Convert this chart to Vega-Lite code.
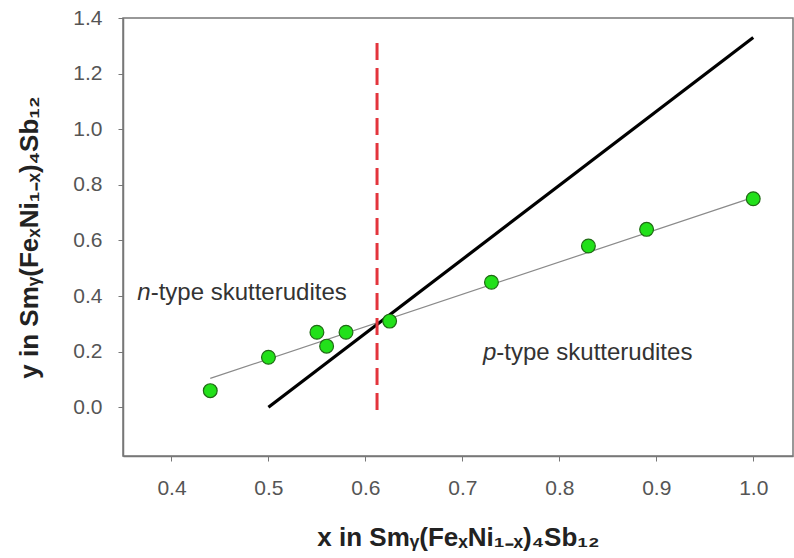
{
  "$schema": "https://vega.github.io/schema/vega-lite/v6.json",
  "width": 670,
  "height": 438,
  "autosize": {"type": "none"},
  "padding": {"left": 123, "top": 18, "right": 1, "bottom": 102},
  "background": "white",
  "config": {
    "view": {"stroke": "#777", "strokeWidth": 1.5},
    "font": "Liberation Sans",
    "axis": {
      "grid": false,
      "domainColor": "#777",
      "domainWidth": 1.5,
      "tickColor": "#777",
      "tickSize": 5,
      "labelFont": "Liberation Sans",
      "labelFontSize": 21,
      "labelColor": "#555",
      "titleFont": "Liberation Sans",
      "titleFontSize": 26,
      "titleFontWeight": "bold",
      "titleColor": "#222"
    }
  },
  "datasets": {
    "points": [
      {"x": 0.44, "y": 0.06},
      {"x": 0.5, "y": 0.18},
      {"x": 0.55, "y": 0.27},
      {"x": 0.56, "y": 0.22},
      {"x": 0.58, "y": 0.27},
      {"x": 0.625, "y": 0.31},
      {"x": 0.73, "y": 0.45},
      {"x": 0.83, "y": 0.58},
      {"x": 0.89, "y": 0.64},
      {"x": 1.0, "y": 0.75}
    ],
    "fit": [
      {"x": 0.44, "y": 0.104},
      {"x": 1.0, "y": 0.755}
    ],
    "boundary": [
      {"x": 0.5, "y": 0.0},
      {"x": 1.0, "y": 1.33}
    ],
    "divider": [
      {"x": 0.612, "y": -0.01, "y2": 1.33}
    ],
    "labels": [
      {"x": 0.3785, "y": 0.41, "lead": "n", "rest": "-type skutterudites"},
      {"x": 0.735, "y": 0.195, "lead": "p", "rest": "-type skutterudites"}
    ]
  },
  "layer": [
    {
      "data": {"name": "fit"},
      "mark": {"type": "line", "color": "#8a8a8a", "strokeWidth": 1.2},
      "encoding": {
        "x": {
          "field": "x", "type": "quantitative",
          "scale": {"domain": [0.35, 1.041], "nice": false, "zero": false},
          "axis": {
            "values": [0.4, 0.5, 0.6, 0.7, 0.8, 0.9, 1.0],
            "format": ".1f",
            "labelPadding": 16,
            "titlePadding": 26,
            "title": "x in Smᵧ(FeₓNi₁₋ₓ)₄Sb₁₂"
          }
        },
        "y": {
          "field": "y", "type": "quantitative",
          "scale": {"domain": [-0.175, 1.4], "nice": false, "zero": false},
          "axis": {
            "values": [0, 0.2, 0.4, 0.6, 0.8, 1.0, 1.2, 1.4],
            "format": ".1f",
            "labelPadding": 16,
            "titlePadding": 30,
            "title": "y in Smᵧ(FeₓNi₁₋ₓ)₄Sb₁₂"
          }
        }
      }
    },
    {
      "data": {"name": "boundary"},
      "mark": {"type": "line", "color": "#000", "strokeWidth": 3.2},
      "encoding": {
        "x": {"field": "x", "type": "quantitative"},
        "y": {"field": "y", "type": "quantitative"}
      }
    },
    {
      "data": {"name": "divider"},
      "mark": {"type": "rule", "color": "#e3343c", "strokeWidth": 3, "strokeDash": [17, 8]},
      "encoding": {
        "x": {"field": "x", "type": "quantitative"},
        "y": {"field": "y", "type": "quantitative"},
        "y2": {"field": "y2"}
      }
    },
    {
      "data": {"name": "points"},
      "mark": {"type": "point", "filled": true, "fill": "#22e01a", "stroke": "#1f6a14", "strokeWidth": 1.2, "opacity": 1, "size": 190, "shape": "circle"},
      "encoding": {
        "x": {"field": "x", "type": "quantitative"},
        "y": {"field": "y", "type": "quantitative"}
      }
    },
    {
      "data": {"name": "labels"},
      "mark": {"type": "text", "align": "right", "baseline": "middle", "fontSize": 24, "fontStyle": "italic", "color": "#333", "font": "Liberation Sans"},
      "encoding": {
        "x": {"field": "x", "type": "quantitative"},
        "y": {"field": "y", "type": "quantitative"},
        "text": {"field": "lead"}
      }
    },
    {
      "data": {"name": "labels"},
      "mark": {"type": "text", "align": "left", "baseline": "middle", "fontSize": 24, "color": "#333", "font": "Liberation Sans"},
      "encoding": {
        "x": {"field": "x", "type": "quantitative"},
        "y": {"field": "y", "type": "quantitative"},
        "text": {"field": "rest"}
      }
    }
  ]
}
